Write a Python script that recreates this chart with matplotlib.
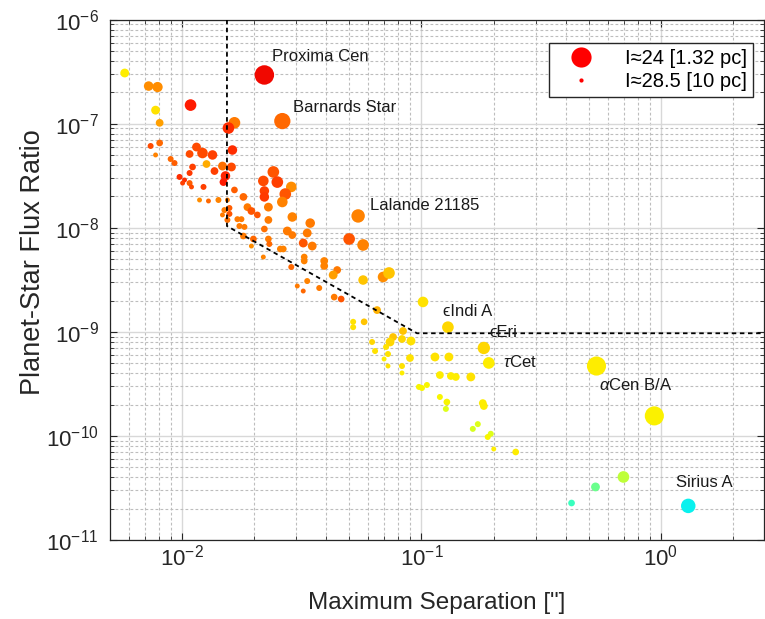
import numpy as np
import matplotlib.pyplot as plt
from matplotlib.lines import Line2D
from matplotlib.ticker import LogLocator

plt.rcParams['font.family'] = ['Liberation Sans', 'DejaVu Sans']
plt.rcParams['mathtext.fontset'] = 'custom'
plt.rcParams['mathtext.rm'] = 'Liberation Sans'
plt.rcParams['mathtext.it'] = 'Liberation Sans:italic'

# maximum separation ["]
sep = [0.00576, 0.00725, 0.00790, 0.01085, 0.00775, 0.00806, 0.02207, 0.02623, 0.01655, 0.01562,
       0.00739, 0.00806, 0.01149, 0.01217, 0.01340, 0.01075, 0.01623, 0.00775, 0.00896, 0.00930,
       0.01106, 0.01265, 0.01475, 0.01608, 0.01366, 0.01075, 0.01518, 0.00976, 0.01024, 0.01489,
       0.01005, 0.01075, 0.01095, 0.01229, 0.01655, 0.01183, 0.01289, 0.01419, 0.01547, 0.01804,
       0.02406, 0.02185, 0.02500, 0.02859, 0.02699, 0.02207, 0.02207, 0.02623, 0.05438, 0.01503,
       0.01577, 0.01577, 0.01475, 0.01547, 0.01703, 0.01770, 0.01736, 0.01822, 0.01804, 0.01986,
       0.01948, 0.01875, 0.01948, 0.02063, 0.02294, 0.02207, 0.02294, 0.02315, 0.02185, 0.02294,
       0.02887, 0.02752, 0.02887, 0.03430, 0.03333, 0.03208, 0.03497, 0.02573, 0.02648, 0.02859,
       0.03238, 0.03238, 0.03333, 0.03029, 0.03208, 0.03741, 0.03925, 0.03925, 0.04446, 0.04278,
       0.04988, 0.05704, 0.05704, 0.06912, 0.07318, 0.1015, 0.04320, 0.04620, 0.06524, 0.05184,
       0.05184, 0.05761, 0.1290, 0.08374, 0.07610, 0.07394, 0.08294, 0.09042, 0.06220, 0.07115,
       0.06401, 0.07249, 0.06981, 0.08956, 0.07249, 0.08294, 0.08294, 0.1139, 0.1302, 0.1822,
       0.1911, 0.1194, 0.1327, 0.1392, 0.1608, 0.09763, 0.1005, 0.1054, 0.1194, 0.1277,
       0.1265, 0.1804, 0.1822, 0.1720, 0.1639, 0.1948, 0.1892, 0.2005, 0.2476, 0.5385,
       0.9395, 0.4237, 0.5334, 0.6980, 1.302]

# planet-star flux ratio
flux = [3.07e-7, 2.30e-7, 2.25e-7, 1.51e-7, 1.35e-7, 1.02e-7, 2.94e-7, 1.06e-7, 1.02e-7, 9.09e-8,
        6.11e-8, 6.53e-8, 5.97e-8, 5.23e-8, 5.01e-8, 5.12e-8, 5.59e-8, 5.01e-8, 4.58e-8, 4.19e-8,
        3.84e-8, 4.10e-8, 3.92e-8, 3.84e-8, 3.51e-8, 3.36e-8, 3.15e-8, 3.08e-8, 2.88e-8, 2.75e-8,
        2.69e-8, 2.69e-8, 2.47e-8, 2.47e-8, 2.31e-8, 1.85e-8, 1.81e-8, 1.85e-8, 1.85e-8, 1.98e-8,
        3.44e-8, 2.82e-8, 2.75e-8, 2.47e-8, 2.11e-8, 2.26e-8, 1.98e-8, 1.77e-8, 1.30e-8, 1.48e-8,
        1.55e-8, 1.36e-8, 1.33e-8, 1.19e-8, 1.21e-8, 1.21e-8, 1.04e-8, 1.02e-8, 8.34e-9, 7.81e-9,
        6.68e-9, 1.58e-8, 1.45e-8, 1.33e-8, 1.19e-8, 9.74e-9, 7.81e-9, 6.99e-9, 5.24e-9, 1.58e-8,
        1.27e-8, 9.32e-9, 8.52e-9, 1.11e-8, 8.91e-9, 7.14e-9, 6.68e-9, 6.26e-9, 6.26e-9, 4.20e-9,
        5.24e-9, 4.80e-9, 3.08e-9, 2.76e-9, 2.47e-9, 2.64e-9, 4.80e-9, 4.30e-9, 3.93e-9, 3.52e-9,
        7.81e-9, 6.84e-9, 3.15e-9, 3.37e-9, 3.68e-9, 1.94e-9, 2.16e-9, 2.07e-9, 1.62e-9, 1.25e-9,
        1.11e-9, 1.25e-9, 1.11e-9, 1.02e-9, 8.93e-10, 8.00e-10, 8.55e-10, 8.18e-10, 8.00e-10, 7.16e-10,
        6.55e-10, 6.13e-10, 5.49e-10, 5.61e-10, 4.70e-10, 4.70e-10, 4.03e-10, 5.74e-10, 5.74e-10, 7.01e-10,
        5.03e-10, 3.85e-10, 3.77e-10, 3.69e-10, 3.69e-10, 2.96e-10, 2.89e-10, 3.09e-10, 2.37e-10, 2.12e-10,
        1.82e-10, 2.07e-10, 1.94e-10, 1.30e-10, 1.17e-10, 1.05e-10, 9.78e-11, 7.50e-11, 7.02e-11, 4.70e-10,
        1.56e-10, 2.27e-11, 3.24e-11, 4.04e-11, 2.13e-11]

# planet I magnitude (sets marker size)
imag = [27.2, 27.0, 26.8, 26.4, 27.2, 27.5, 24.2, 25.1, 26.4, 26.4,
        28.0, 27.8, 27.2, 26.7, 27.0, 27.5, 27.0, 28.3, 28.0, 28.0,
        27.8, 27.5, 27.2, 27.2, 27.5, 28.0, 27.0, 28.0, 28.3, 27.5,
        28.3, 28.0, 28.3, 28.0, 27.8, 28.3, 28.3, 28.0, 28.3, 27.5,
        26.4, 26.7, 26.4, 26.7, 26.4, 27.0, 27.0, 26.7, 25.9, 28.0,
        28.0, 28.0, 28.3, 28.0, 28.0, 28.0, 28.0, 28.0, 27.8, 27.8,
        28.3, 27.5, 27.5, 27.8, 27.5, 27.8, 27.8, 28.0, 28.3, 27.2,
        27.0, 27.2, 27.5, 27.0, 27.2, 27.2, 27.2, 27.8, 27.8, 28.0,
        27.8, 27.8, 28.0, 28.3, 28.3, 28.0, 27.5, 27.5, 27.5, 27.2,
        26.4, 26.4, 27.0, 26.7, 26.4, 26.7, 27.8, 27.8, 27.5, 28.0,
        28.0, 27.8, 26.4, 27.5, 27.5, 27.2, 27.5, 27.2, 28.0, 28.0,
        28.0, 28.0, 28.3, 27.5, 28.3, 28.0, 28.3, 27.2, 27.2, 26.2,
        26.4, 27.5, 27.5, 27.5, 27.2, 28.0, 28.0, 28.0, 28.0, 27.8,
        28.0, 27.5, 27.5, 28.0, 28.0, 28.0, 28.0, 28.3, 27.8, 24.3,
        24.3, 27.8, 27.2, 26.4, 25.6]

# host star colour value (jet colormap)
cval = [0.66, 0.76, 0.76, 0.88, 0.67, 0.74, 0.90, 0.80, 0.78, 0.86,
        0.83, 0.80, 0.83, 0.83, 0.84, 0.83, 0.86, 0.77, 0.80, 0.81,
        0.84, 0.73, 0.79, 0.83, 0.84, 0.85, 0.87, 0.86, 0.86, 0.88,
        0.84, 0.81, 0.83, 0.84, 0.81, 0.76, 0.80, 0.77, 0.78, 0.80,
        0.82, 0.83, 0.84, 0.76, 0.82, 0.84, 0.85, 0.77, 0.77, 0.78,
        0.81, 0.82, 0.78, 0.79, 0.78, 0.78, 0.78, 0.78, 0.78, 0.80,
        0.76, 0.78, 0.82, 0.82, 0.78, 0.79, 0.78, 0.80, 0.77, 0.78,
        0.77, 0.78, 0.78, 0.78, 0.78, 0.82, 0.78, 0.77, 0.77, 0.80,
        0.77, 0.77, 0.77, 0.78, 0.80, 0.78, 0.77, 0.77, 0.78, 0.74,
        0.82, 0.77, 0.70, 0.76, 0.70, 0.67, 0.78, 0.82, 0.72, 0.67,
        0.67, 0.70, 0.68, 0.70, 0.70, 0.68, 0.68, 0.67, 0.68, 0.67,
        0.67, 0.67, 0.66, 0.67, 0.67, 0.67, 0.66, 0.67, 0.67, 0.68,
        0.66, 0.66, 0.66, 0.66, 0.67, 0.65, 0.65, 0.65, 0.65, 0.65,
        0.62, 0.66, 0.66, 0.62, 0.61, 0.62, 0.65, 0.66, 0.66, 0.66,
        0.655, 0.42, 0.48, 0.58, 0.36]

# named stars: (index, label, offset in px)
named = [(6, 'Proxima Cen', (8, 18)),
         (7, 'Barnards Star', (11, 14)),
         (48, 'Lalande 21185', (12, 10)),
         (102, 'ϵIndi A', (-5, 16)),
         (119, 'ϵEri', (6, 15)),
         (120, r'$\tau$Cet', (14, 1)),
         (139, r'$\alpha$Cen B/A', (3, -19)),
         (144, 'Sirius A', (-12, 23))]

# detection limit curve
lim_sep = [0.0154, 0.0154, 0.0958, 2.7]
lim_flux = [1e-6, 1.04e-8, 9.7e-10, 9.7e-10]

xticks = [1e-2, 1e-1, 1e0]
yticks = [1e-11, 1e-10, 1e-9, 1e-8, 1e-7, 1e-6]

legend_imag = [24, 28.5]
legend_text = ['I≈24 [1.32 pc]', 'I≈28.5 [10 pc]']

dpi = 100


def diam_pt(i):
    return (4.2 + (28.5 - np.asarray(i)) * 3.55) * 72 / dpi


fig = plt.figure(figsize=(7.65, 6.19), dpi=dpi)
ax = fig.add_axes([0.1438, 0.1275, 0.855, 0.8408])
ax.set_xscale('log')
ax.set_yscale('log')
ax.set_xticks(xticks)
ax.set_yticks(yticks)
ax.xaxis.set_minor_locator(LogLocator(base=10, subs=np.arange(2, 10)))
ax.yaxis.set_minor_locator(LogLocator(base=10, subs=np.arange(2, 10)))
ax.set_xlim(0.005, 2.7)
ax.set_ylim(1e-11, 1e-6)

ax.set_axisbelow(True)
ax.grid(True, which='major', color='#d8d8d8', lw=1.0, ls='-')
ax.grid(True, which='minor', color='#bdbdbd', lw=0.8, ls=(0, (2.5, 2)))

colors = plt.cm.jet(np.array(cval))
ax.scatter(sep, flux, s=diam_pt(imag) ** 2, c=colors, edgecolors='none', zorder=3)

ax.plot(lim_sep, lim_flux, color='k', lw=1.3, ls=(0, (2.5, 2)), zorder=4)

for idx, name, (dx, dy) in named:
    ax.annotate(name, (sep[idx], flux[idx]), xytext=(dx * 0.72, dy * 0.72),
                textcoords='offset points', ha='left', va='center', fontsize=12,
                color='#1a1a1a', zorder=5)

handles = [Line2D([], [], ls='none', marker='o', color='red', markeredgecolor='none',
                  markersize=diam_pt(m)) for m in legend_imag]
leg = ax.legend(handles, legend_text, loc='upper left', bbox_to_anchor=(0.671, 0.955),
                borderaxespad=0, fontsize=14.5, frameon=True, fancybox=False,
                edgecolor='#262626', framealpha=1, handletextpad=0.9,
                borderpad=0.3, labelspacing=0.2, handlelength=2.6)
leg.get_frame().set_linewidth(1.0)

ax.tick_params(which='both', direction='in', top=True, right=True, colors='#262626',
               labelcolor='#262626', labelsize=16)
ax.tick_params(which='major', length=5)
ax.tick_params(which='minor', length=3)
ax.tick_params(axis='y', pad=8)
ax.xaxis.set_minor_formatter(plt.NullFormatter())
ax.yaxis.set_minor_formatter(plt.NullFormatter())
for s in ax.spines.values():
    s.set_color('#262626')
    s.set_linewidth(0.9)

ax.set_xlabel('Maximum Separation ["]', fontsize=17.5, color='#262626', labelpad=15)
ax.set_ylabel('Planet-Star Flux Ratio', fontsize=19.5, color='#262626')
ax.yaxis.set_label_coords(-0.098, 0.535)

fig.savefig('out.png', dpi=dpi)
